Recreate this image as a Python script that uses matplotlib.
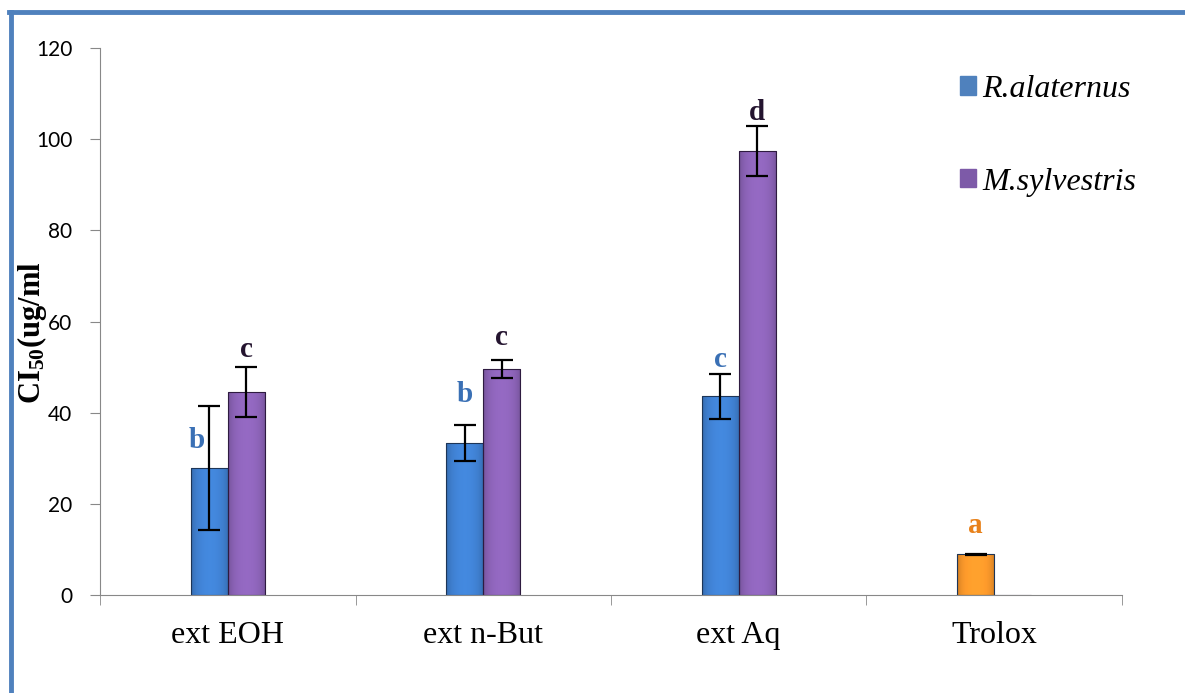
import numpy as np
import matplotlib
matplotlib.use("Agg")
import matplotlib.pyplot as plt
from matplotlib.lines import Line2D
from matplotlib.colors import to_rgb

plt.rcParams["mathtext.fontset"] = "custom"
plt.rcParams["mathtext.bf"] = "Liberation Serif:bold"
plt.rcParams["mathtext.rm"] = "Liberation Serif:bold"

categories = ["ext EOH", "ext n-But", "ext Aq", "Trolox"]
r_alaternus = [27.8, 33.4, 43.6, 8.9]
r_err = [13.6, 4.0, 4.9, 0.2]
m_sylvestris = [44.5, 49.5, 97.4, 0]
m_err = [5.5, 2.0, 5.5, 0]
r_letters = ["b", "b", "c", "a"]
r_letter_y = [32.2, 42.3, 50.0, 13.6]
m_letters = ["c", "c", "d", ""]
m_letter_y = [52.2, 54.8, 104.2, 0]

blue = "#3f7fcf"
purple = "#8a62b5"
orange = "#f7962a"

fig = plt.figure(figsize=(11.85, 6.93), dpi=100)
ax = fig.add_axes([0.0844, 0.1414, 0.8624, 0.7893])

x = np.arange(len(categories))
w = 0.145
r_colors = [blue, blue, blue, orange]
bars_r = ax.bar(x - w / 2, r_alaternus, w, color=r_colors, edgecolor="#1d3557", linewidth=0.8)
bars_m = ax.bar(x + w / 2, m_sylvestris, w, color=purple, edgecolor="#2e1b40", linewidth=0.8)

# shaded fill so the bars look rounded
t = np.linspace(-1, 1, 64)
shade = 0.72 + 0.28 * (1 - t ** 2) ** 0.5
for bar in list(bars_r) + list(bars_m):
    if bar.get_height() <= 0:
        continue
    c = np.array(to_rgb(bar.get_facecolor()))
    img = np.clip(shade[None, :, None] * c[None, None, :] * 1.08, 0, 1)
    bx, by = bar.get_x(), bar.get_y()
    im = ax.imshow(img, extent=[bx, bx + bar.get_width(), by, by + bar.get_height()],
                   aspect="auto", zorder=bar.get_zorder(), interpolation="bilinear")
    im.set_clip_path(bar)
    bar.set_zorder(bar.get_zorder() + 0.1)
    bar.set_facecolor("none")

ax.errorbar(x - w / 2, r_alaternus, yerr=r_err, fmt="none", ecolor="black",
            elinewidth=1.6, capsize=8, capthick=1.6, zorder=3)
mask = np.array(m_sylvestris) > 0
ax.errorbar((x + w / 2)[mask], np.array(m_sylvestris)[mask], yerr=np.array(m_err)[mask],
            fmt="none", ecolor="black", elinewidth=1.6, capsize=8, capthick=1.6, zorder=3)

# significance letters
for i in range(len(categories)):
    col = "#e8811a" if categories[i] == "Trolox" else "#3a70b5"
    dx = -0.05 if i == 0 else 0
    ax.text(x[i] - w / 2 + dx, r_letter_y[i], r_letters[i], ha="center", va="baseline",
            fontsize=21, fontweight="bold", family="Liberation Serif", color=col)
    if m_letters[i]:
        ax.text(x[i] + w / 2, m_letter_y[i], m_letters[i], ha="center", va="baseline",
                fontsize=21, fontweight="bold", family="Liberation Serif", color="#24142f")

ax.set_xlim(-0.5, len(categories) - 0.5)
ax.set_ylim(0, 120)
ax.set_yticks(np.arange(0, 121, 20))
ax.set_xticks(x)
ax.set_xticklabels(categories, family="Liberation Serif", fontsize=23)
ax.set_xticks(np.arange(-0.5, len(categories)), minor=True)
ax.tick_params(axis="x", which="major", length=0, pad=19)
ax.tick_params(axis="x", which="minor", length=7, color="#888888")
ax.tick_params(axis="y", length=7, color="#888888", labelsize=15, pad=13)
for lab in ax.get_yticklabels():
    lab.set_family("Lato")
for s in ["top", "right"]:
    ax.spines[s].set_visible(False)
for s in ["left", "bottom"]:
    ax.spines[s].set_color("#888888")

fig.text(32 / 1185, 1 - 333 / 693, r"$\mathbf{CI_{50}(ug/ml}$", rotation=90,
         ha="center", va="center", fontsize=22)

handles = [plt.Rectangle((0, 0), 1, 1, color="#4f81bd"),
           plt.Rectangle((0, 0), 1, 1, color="#7d5aa8")]
leg = fig.legend(handles, ["R.alaternus", "M.sylvestris"], loc="upper left",
                 bbox_to_anchor=(0.810, 0.892), frameon=False, handlelength=0.5,
                 handleheight=0.5, handletextpad=0.2, labelspacing=2.0,
                 borderpad=0, borderaxespad=0,
                 prop={"family": "Liberation Serif", "style": "italic", "size": 23})

# outer blue frame (left and top edges)
fig.add_artist(Line2D([0.0093, 0.0093], [0, 0.982], color="#4f81bd", lw=3.5,
                      transform=fig.transFigure))
fig.add_artist(Line2D([0.0078, 1], [0.982, 0.982], color="#4f81bd", lw=3.5,
                      transform=fig.transFigure))

fig.savefig("out.png", dpi=100)
